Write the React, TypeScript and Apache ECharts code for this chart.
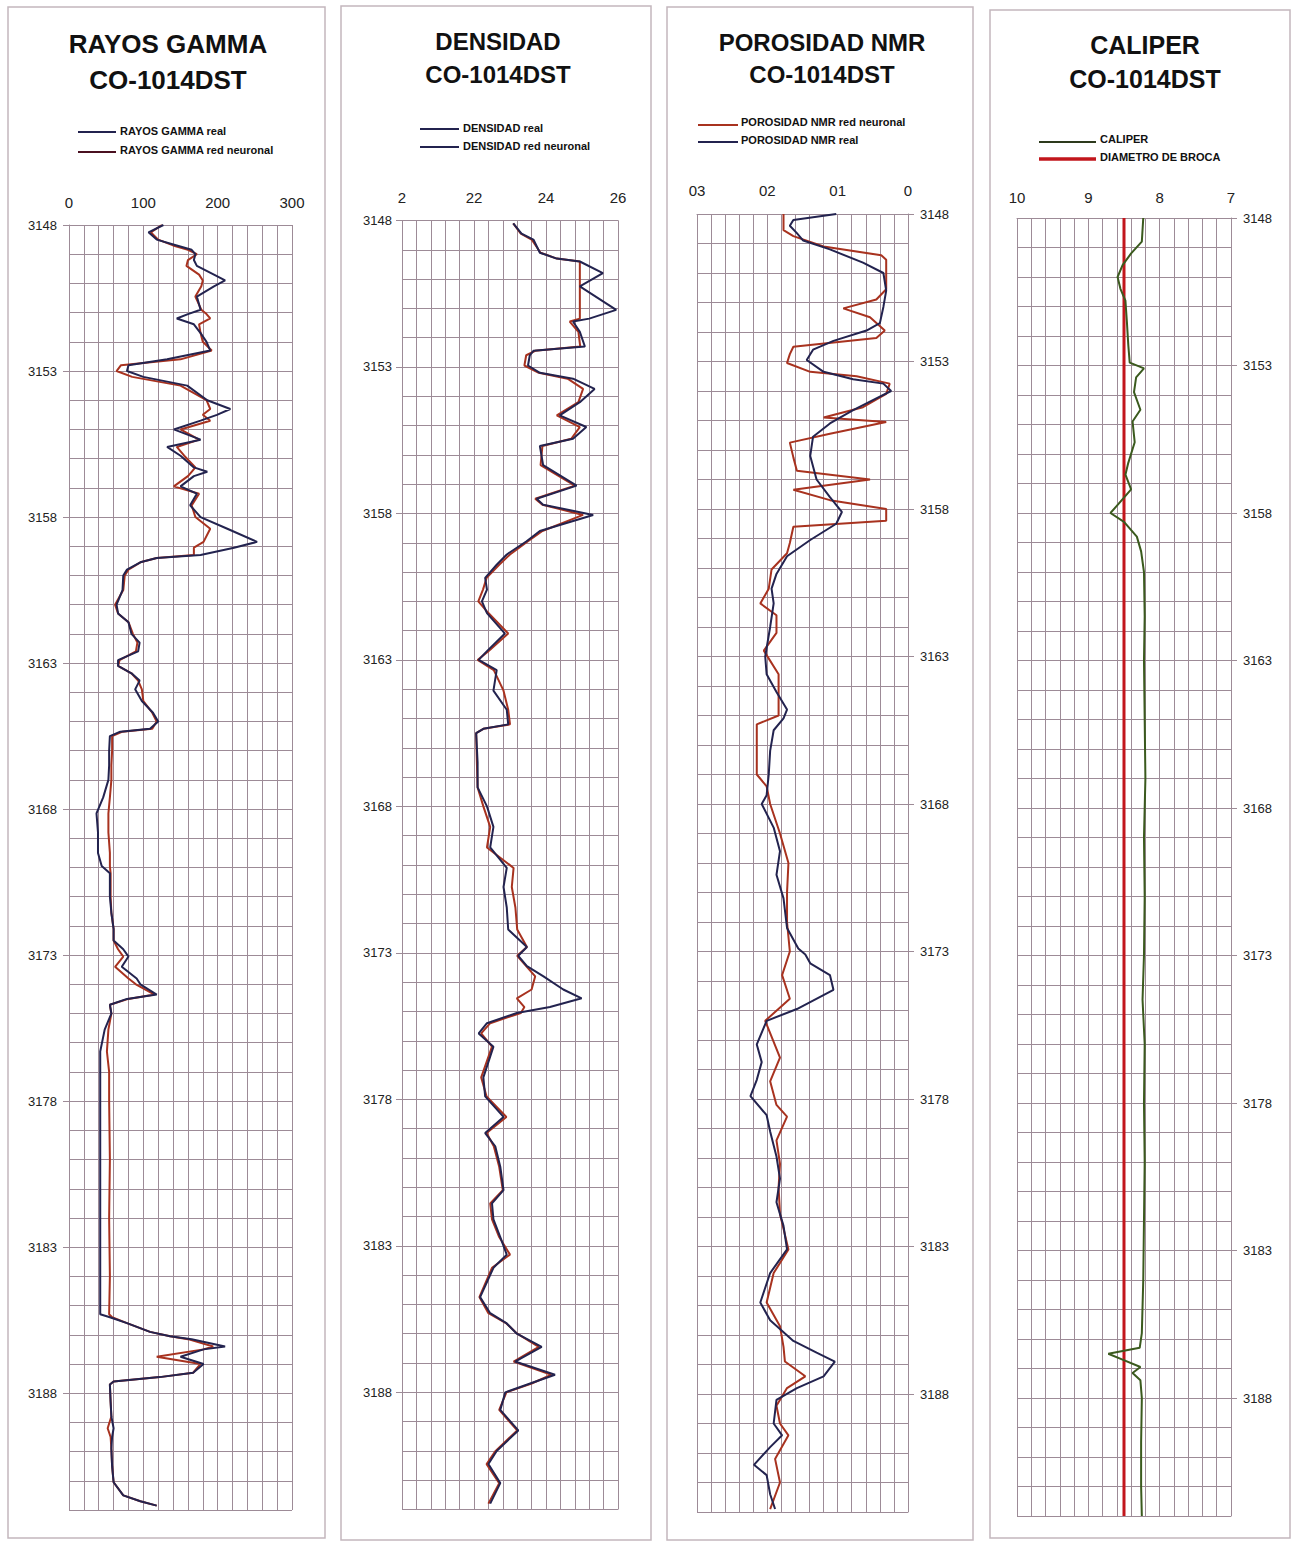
import React, { useEffect, useRef } from "react";
import * as echarts from "echarts";

// ---------------- DATA ----------------
const depthTicks = [3148, 3153, 3158, 3163, 3168, 3173, 3178, 3183, 3188];

const gammaTicks = [0, 100, 200, 300];
const gammaDepth = [3148.0, 3148.25, 3148.5, 3148.7, 3148.85, 3149.0, 3149.2, 3149.4, 3149.7, 3149.9, 3150.1, 3150.45, 3150.9, 3151.05, 3151.2, 3151.4, 3151.7, 3152.0, 3152.3, 3152.6, 3152.8, 3153.0, 3153.2, 3153.5, 3154.0, 3154.3, 3154.5, 3154.7, 3155.0, 3155.35, 3155.6, 3155.9, 3156.3, 3156.45, 3156.6, 3156.95, 3157.2, 3157.6, 3158.0, 3158.4, 3158.85, 3159.05, 3159.3, 3159.4, 3159.55, 3159.8, 3160.0, 3160.5, 3161.0, 3161.3, 3161.6, 3162.0, 3162.3, 3162.6, 3162.9, 3163.1, 3163.35, 3163.6, 3163.9, 3164.3, 3164.7, 3165.0, 3165.25, 3165.35, 3165.5, 3166.0, 3166.5, 3167.0, 3167.6, 3168.15, 3168.8, 3169.5, 3169.95, 3170.2, 3171.0, 3171.55, 3172.1, 3172.5, 3172.8, 3173.05, 3173.4, 3173.8, 3174.0, 3174.35, 3174.5, 3174.7, 3175.0, 3175.55, 3176.3, 3177.0, 3178.0, 3180.0, 3182.0, 3184.0, 3185.3, 3185.4, 3185.6, 3185.9, 3186.05, 3186.15, 3186.4, 3186.5, 3186.75, 3187.0, 3187.3, 3187.45, 3187.6, 3187.7, 3188.3, 3188.8, 3189.2, 3189.5, 3189.9, 3190.5, 3191.05, 3191.5, 3191.7, 3191.85];
const gammaReal = [127, 107, 118, 145, 165, 170, 168, 172, 195, 210, 195, 172, 177, 160, 145, 168, 177, 185, 190, 132, 80, 78, 100, 159, 186, 217, 199, 177, 141, 177, 132, 150, 168, 186, 168, 150, 172, 163, 177, 213, 253, 222, 177, 118, 96, 78, 73, 72, 64, 66, 80, 84, 95, 93, 66, 66, 84, 95, 89, 98, 113, 120, 109, 69, 55, 54, 54, 53, 46, 37, 39, 39, 44, 55, 55, 57, 60, 60, 73, 80, 71, 91, 96, 118, 78, 55, 57, 48, 42, 42, 42, 42, 42, 42, 42, 55, 78, 109, 136, 165, 210, 181, 150, 181, 167, 122, 60, 55, 56, 57, 60, 58, 57, 58, 60, 73, 96, 118];
const gammaNN = [125, 110, 120, 140, 160, 172, 160, 158, 175, 180, 178, 170, 178, 185, 190, 175, 177, 180, 192, 150, 70, 64, 85, 150, 185, 190, 180, 190, 150, 175, 145, 155, 170, 165, 160, 141, 175, 165, 170, 190, 181, 168, 168, 118, 96, 80, 75, 73, 62, 66, 80, 86, 92, 90, 68, 66, 84, 93, 98, 100, 112, 118, 112, 72, 58, 58, 57, 57, 55, 53, 53, 55, 55, 56, 56, 57, 60, 60, 66, 73, 62, 80, 90, 115, 80, 55, 57, 53, 51, 54, 54, 55, 54, 55, 54, 58, 78, 109, 136, 160, 194, 181, 118, 177, 167, 122, 60, 55, 56, 57, 52, 56, 57, 58, 60, 73, 96, 118];

const densTicks = [2.0, 2.2, 2.4, 2.6];
const densDepth = [3148.1, 3148.45, 3148.65, 3149.1, 3149.3, 3149.4, 3149.8, 3150.25, 3151.05, 3151.35, 3151.45, 3151.8, 3152.3, 3152.45, 3152.6, 3152.95, 3153.2, 3153.4, 3153.75, 3154.2, 3154.65, 3155.05, 3155.45, 3155.7, 3156.35, 3157.05, 3157.5, 3157.7, 3158.05, 3158.6, 3158.95, 3159.4, 3159.75, 3160.2, 3160.6, 3161.0, 3161.4, 3162.1, 3162.7, 3163.0, 3163.35, 3164.05, 3164.7, 3165.2, 3165.35, 3165.5, 3166.5, 3167.35, 3168.0, 3168.7, 3169.4, 3170.1, 3170.75, 3171.45, 3172.2, 3172.8, 3173.1, 3173.45, 3173.8, 3174.25, 3174.55, 3174.85, 3175.05, 3175.4, 3175.75, 3176.2, 3177.25, 3177.9, 3178.6, 3179.15, 3179.6, 3180.3, 3181.1, 3181.55, 3182.1, 3182.7, 3183.3, 3183.75, 3184.75, 3185.3, 3185.65, 3186.0, 3186.45, 3186.95, 3187.4, 3187.7, 3188.0, 3188.6, 3189.3, 3190.0, 3190.45, 3191.1, 3191.8];
const densReal = [2.309, 2.332, 2.365, 2.383, 2.43, 2.494, 2.558, 2.494, 2.595, 2.52, 2.475, 2.494, 2.508, 2.365, 2.355, 2.35, 2.383, 2.475, 2.535, 2.494, 2.438, 2.512, 2.475, 2.383, 2.392, 2.485, 2.374, 2.392, 2.531, 2.383, 2.346, 2.291, 2.263, 2.231, 2.236, 2.222, 2.236, 2.286, 2.236, 2.213, 2.263, 2.254, 2.291, 2.295, 2.226, 2.206, 2.21, 2.21, 2.236, 2.254, 2.245, 2.291, 2.282, 2.291, 2.295, 2.347, 2.323, 2.347, 2.393, 2.448, 2.499, 2.411, 2.319, 2.236, 2.213, 2.254, 2.226, 2.231, 2.282, 2.231, 2.259, 2.273, 2.282, 2.25, 2.254, 2.273, 2.291, 2.254, 2.217, 2.245, 2.291, 2.319, 2.388, 2.314, 2.425, 2.356, 2.287, 2.273, 2.323, 2.263, 2.24, 2.273, 2.245];
const densNN = [2.309, 2.33, 2.36, 2.385, 2.43, 2.494, 2.494, 2.494, 2.494, 2.494, 2.466, 2.49, 2.495, 2.37, 2.345, 2.34, 2.38, 2.46, 2.503, 2.49, 2.43, 2.494, 2.47, 2.39, 2.385, 2.48, 2.37, 2.39, 2.503, 2.39, 2.35, 2.3, 2.27, 2.235, 2.225, 2.212, 2.24, 2.295, 2.24, 2.21, 2.255, 2.282, 2.295, 2.3, 2.226, 2.206, 2.208, 2.21, 2.226, 2.245, 2.236, 2.31, 2.305, 2.315, 2.32, 2.347, 2.32, 2.345, 2.37, 2.36, 2.319, 2.34, 2.33, 2.245, 2.22, 2.25, 2.22, 2.235, 2.29, 2.235, 2.255, 2.27, 2.28, 2.245, 2.25, 2.27, 2.3, 2.25, 2.215, 2.24, 2.29, 2.32, 2.38, 2.31, 2.415, 2.36, 2.29, 2.27, 2.32, 2.26, 2.235, 2.27, 2.24];

const nmrTicks = [0, 0.1, 0.2, 0.3];
const nmrRealDepth = [3148.0, 3148.2, 3148.4, 3148.65, 3148.9, 3149.2, 3149.65, 3150.0, 3150.6, 3151.15, 3151.7, 3151.95, 3152.3, 3152.6, 3152.95, 3153.35, 3153.6, 3153.75, 3154.0, 3154.25, 3154.65, 3155.1, 3155.55, 3156.2, 3157.0, 3157.6, 3158.1, 3158.5, 3159.05, 3159.6, 3160.2, 3160.7, 3161.2, 3162.0, 3163.0, 3163.6, 3164.2, 3164.8, 3165.1, 3165.5, 3166.2, 3167.0, 3167.7, 3168.0, 3168.8, 3169.6, 3170.4, 3171.2, 3172.2, 3172.9, 3173.1, 3173.4, 3173.8, 3174.3, 3174.95, 3175.35, 3176.15, 3176.75, 3177.35, 3177.9, 3178.55, 3179.1, 3179.95, 3180.7, 3181.5, 3182.3, 3183.1, 3183.9, 3184.9, 3185.5, 3186.2, 3186.6, 3186.9, 3187.4, 3187.8, 3188.2, 3189.0, 3189.4, 3189.8, 3190.4, 3190.75, 3191.4, 3191.9];
const nmrReal = [0.102, 0.163, 0.168, 0.158, 0.149, 0.111, 0.064, 0.035, 0.031, 0.035, 0.04, 0.059, 0.106, 0.135, 0.144, 0.12, 0.078, 0.035, 0.024, 0.045, 0.078, 0.111, 0.135, 0.139, 0.13, 0.111, 0.094, 0.102, 0.139, 0.172, 0.187, 0.194, 0.191, 0.196, 0.203, 0.201, 0.187, 0.172, 0.177, 0.191, 0.196, 0.198, 0.201, 0.208, 0.191, 0.182, 0.187, 0.177, 0.172, 0.156, 0.146, 0.139, 0.111, 0.106, 0.158, 0.201, 0.215, 0.208, 0.215, 0.224, 0.201, 0.196, 0.187, 0.182, 0.187, 0.177, 0.172, 0.196, 0.21, 0.196, 0.163, 0.13, 0.104, 0.12, 0.158, 0.187, 0.191, 0.179, 0.196, 0.219, 0.201, 0.196, 0.189];
const nmrNNDepth = [3148.0, 3148.55, 3148.75, 3149.1, 3149.4, 3149.55, 3150.55, 3150.9, 3151.2, 3151.5, 3151.95, 3152.2, 3152.5, 3152.75, 3153.05, 3153.35, 3153.5, 3153.75, 3154.1, 3154.55, 3154.9, 3155.05, 3155.45, 3155.75, 3156.25, 3156.7, 3157.0, 3157.35, 3157.7, 3158.0, 3158.4, 3158.6, 3159.15, 3159.5, 3160.05, 3160.7, 3161.2, 3161.6, 3162.2, 3162.8, 3163.6, 3165.0, 3165.3, 3167.0, 3167.4, 3168.0, 3169.0, 3170.0, 3171.0, 3172.0, 3173.0, 3173.8, 3174.6, 3175.35, 3176.6, 3177.4, 3178.2, 3178.6, 3179.4, 3180.2, 3181.0, 3181.9, 3183.1, 3183.9, 3184.9, 3185.7, 3186.4, 3186.9, 3187.4, 3187.8, 3188.4, 3189.0, 3189.4, 3190.2, 3191.0, 3191.9];
const nmrNN = [0.177, 0.177, 0.163, 0.12, 0.038, 0.031, 0.031, 0.045, 0.092, 0.054, 0.033, 0.045, 0.163, 0.168, 0.172, 0.139, 0.073, 0.026, 0.031, 0.064, 0.12, 0.031, 0.111, 0.168, 0.163, 0.158, 0.054, 0.163, 0.111, 0.031, 0.031, 0.163, 0.168, 0.172, 0.194, 0.198, 0.21, 0.187, 0.187, 0.205, 0.184, 0.184, 0.215, 0.215, 0.201, 0.196, 0.182, 0.17, 0.172, 0.172, 0.168, 0.179, 0.168, 0.203, 0.182, 0.196, 0.187, 0.172, 0.187, 0.182, 0.184, 0.182, 0.17, 0.191, 0.201, 0.182, 0.177, 0.175, 0.146, 0.172, 0.187, 0.182, 0.17, 0.189, 0.182, 0.196];

const calTicks = [7, 8, 9, 10];
const calDepth = [3148.0, 3148.8, 3149.2, 3149.6, 3150.0, 3150.4, 3150.8, 3151.5, 3152.3, 3152.9, 3153.1, 3153.4, 3153.9, 3154.5, 3154.9, 3155.6, 3156.3, 3156.7, 3157.2, 3157.7, 3158.0, 3158.3, 3158.8, 3159.3, 3160.0, 3161.5, 3163.0, 3165.0, 3167.0, 3169.0, 3171.0, 3173.0, 3174.5, 3176.0, 3178.0, 3180.0, 3182.0, 3184.0, 3185.8, 3186.3, 3186.5, 3186.7, 3186.95, 3187.15, 3187.4, 3188.0, 3189.5, 3191.0, 3192.0];
const calVal = [8.23, 8.25, 8.4, 8.52, 8.59, 8.55, 8.48, 8.46, 8.44, 8.42, 8.22, 8.33, 8.36, 8.27, 8.38, 8.35, 8.44, 8.48, 8.4, 8.58, 8.69, 8.5, 8.32, 8.26, 8.22, 8.21, 8.22, 8.21, 8.2, 8.22, 8.21, 8.22, 8.24, 8.21, 8.22, 8.21, 8.22, 8.23, 8.25, 8.28, 8.72, 8.52, 8.27, 8.38, 8.27, 8.25, 8.26, 8.26, 8.25];
const bitDepth = [3148, 3192];
const bitVal = [8.5, 8.5];

// ---------------- STYLE ----------------
const REAL = "#23234f";
const NN = "#a8321f";
const GRIDC = "#9d8b97";
const FRAME = "#c3b7bd";
const FONT = "Liberation Sans";

function pairs(vals: number[], depths: number[]) {
  return vals.map((v, i) => [v, depths[i]]);
}

const near = (v: number, arr: number[]) => arr.some((a) => Math.abs(a - v) < 1e-6);

export default function App() {
  const ref = useRef<HTMLDivElement>(null);
  useEffect(() => {
    if (!ref.current) return;
    const chart = echarts.init(ref.current, null, { renderer: "svg" });

    const grids = [
      { left: 69, top: 225, width: 223, height: 1285 },
      { left: 402, top: 220.5, width: 216, height: 1289 },
      { left: 697, top: 214, width: 211, height: 1298 },
      { left: 1017, top: 218, width: 214, height: 1298 },
    ];

    const xBase = (i: number, min: number, max: number, interval: number, inverse: boolean, ticks: number[], fmt: (v: number) => string, margin: number) => ({
      type: "value",
      gridIndex: i,
      position: "top",
      min,
      max,
      interval,
      inverse,
      axisLine: { show: true, lineStyle: { color: GRIDC, width: 1 } },
      axisTick: { show: false },
      splitLine: { show: true, lineStyle: { color: GRIDC, width: 1 } },
      axisLabel: {
        show: true,
        customValues: ticks,
        margin,
        fontSize: 15,
        fontFamily: FONT,
        color: "#222",
        formatter: (v: number) => (near(v, ticks) ? fmt(v) : ""),
      },
    });

    // main depth axes: grid lines every foot, labels every 5
    const yBase = (i: number, pos: string, margin: number) => ({
      type: "value",
      gridIndex: i,
      position: pos,
      inverse: true,
      min: 3148,
      max: 3192,
      interval: 1,
      axisLine: { show: true, lineStyle: { color: GRIDC, width: 1 } },
      axisTick: { show: false },
      splitLine: { show: true, lineStyle: { color: GRIDC, width: 1 } },
      axisLabel: {
        show: true,
        customValues: depthTicks,
        margin,
        fontSize: 13,
        fontFamily: FONT,
        color: "#222",
        formatter: (v: number) => (near(v, depthTicks) ? String(v) : ""),
      },
    });
    // overlay depth axes that only draw the short tick marks at labelled depths
    const yTick = (i: number, pos: string) => ({
      type: "value",
      gridIndex: i,
      position: pos,
      inverse: true,
      min: 3148,
      max: 3192,
      interval: 5,
      axisLine: { show: false },
      axisTick: { show: true, customValues: depthTicks, length: 6, lineStyle: { color: GRIDC } },
      splitLine: { show: false },
      axisLabel: { show: false },
    });

    const xAxis = [
      xBase(0, 0, 300, 20, false, gammaTicks, (v) => String(v), 15),
      xBase(1, 2.0, 2.6, 0.04, false, densTicks, (v) => {
        const k = Math.round(v * 10);
        return k === 20 ? "2" : String(k);
      }, 16),
      xBase(2, 0, 0.3, 0.02, true, nmrTicks, (v) => {
        const k = Math.round(v * 10);
        return k === 0 ? "0" : "0" + k;
      }, 16),
      xBase(3, 7, 10, 0.2, true, calTicks, (v) => String(Math.round(v)), 13),
    ];
    const yAxis = [
      yBase(0, "left", 12), yBase(1, "left", 10), yBase(2, "right", 12), yBase(3, "right", 12),
      yTick(0, "left"), yTick(1, "left"), yTick(2, "right"), yTick(3, "right"),
    ];

    const line = (name: string, xi: number, data: number[][], color: string, width = 2, z = 3) => ({
      name,
      type: "line",
      xAxisIndex: xi,
      yAxisIndex: xi,
      data,
      showSymbol: false,
      symbol: "none",
      z,
      lineStyle: { color, width },
      emphasis: { disabled: true },
    });

    const series = [
      line("RAYOS GAMMA red neuronal", 0, pairs(gammaNN, gammaDepth), NN),
      line("RAYOS GAMMA real", 0, pairs(gammaReal, gammaDepth), REAL),
      line("DENSIDAD red neuronal", 1, pairs(densNN, densDepth), NN),
      line("DENSIDAD real", 1, pairs(densReal, densDepth), REAL),
      line("POROSIDAD NMR red neuronal", 2, pairs(nmrNN, nmrNNDepth), NN),
      line("POROSIDAD NMR real", 2, pairs(nmrReal, nmrRealDepth), REAL),
      line("DIAMETRO DE BROCA", 3, pairs(bitVal, bitDepth), "#c2161c", 3),
      line("CALIPER", 3, pairs(calVal, calDepth), "#3b5a1e", 2, 4),
    ];

    const frame = (x: number, y: number, w: number, h: number) => ({
      type: "rect",
      shape: { x, y, width: w, height: h },
      style: { fill: "none", stroke: FRAME, lineWidth: 1.5 },
      silent: true,
    });
    const title = (x: number, y: number, text: string, size = 25) => ({
      type: "text",
      x,
      y,
      style: { text, fill: "#111", font: `bold ${size}px "${FONT}"`, align: "center", verticalAlign: "middle" },
      silent: true,
    });
    const legLine = (x1: number, x2: number, y: number, color: string, w = 2) => ({
      type: "line",
      shape: { x1, y1: y, x2, y2: y },
      style: { stroke: color, lineWidth: w },
      silent: true,
    });
    const legText = (x: number, y: number, text: string) => ({
      type: "text",
      x,
      y,
      style: { text, fill: "#111", font: `bold 11px "${FONT}"`, align: "left", verticalAlign: "middle" },
      silent: true,
    });

    const graphic = [
      frame(8, 7, 317, 1531),
      frame(341, 6, 310, 1534),
      frame(667, 7, 306, 1533),
      frame(990, 10, 300, 1528),

      title(168, 44, "RAYOS GAMMA", 26),
      title(168, 80, "CO-1014DST", 26),
      title(498, 41, "DENSIDAD", 24),
      title(498, 74, "CO-1014DST", 24),
      title(822, 42, "POROSIDAD NMR", 24),
      title(822, 74, "CO-1014DST", 24),
      title(1145, 45, "CALIPER", 25),
      title(1145, 79, "CO-1014DST", 25),

      legLine(78, 116, 132, REAL),
      legText(120, 131, "RAYOS GAMMA real"),
      legLine(78, 116, 152, "#4a1020"),
      legText(120, 150, "RAYOS GAMMA red neuronal"),

      legLine(420, 459, 129, REAL),
      legText(463, 128, "DENSIDAD real"),
      legLine(420, 459, 147, REAL),
      legText(463, 146, "DENSIDAD red neuronal"),

      legLine(698, 738, 125, NN),
      legText(741, 122, "POROSIDAD NMR red neuronal"),
      legLine(698, 738, 142, REAL),
      legText(741, 140, "POROSIDAD NMR real"),

      legLine(1039, 1096, 142, "#2d3a1c"),
      legText(1100, 139, "CALIPER"),
      legLine(1039, 1096, 159, "#c2161c", 3.5),
      legText(1100, 157, "DIAMETRO DE BROCA"),
    ];

    chart.setOption({
      animation: false,
      backgroundColor: "#ffffff",
      grid: grids,
      xAxis,
      yAxis,
      series,
      graphic,
    });
    return () => chart.dispose();
  }, []);

  return <div ref={ref} style={{ position: "absolute", left: 0, top: 0, width: 1293, height: 1541 }} />;
}
